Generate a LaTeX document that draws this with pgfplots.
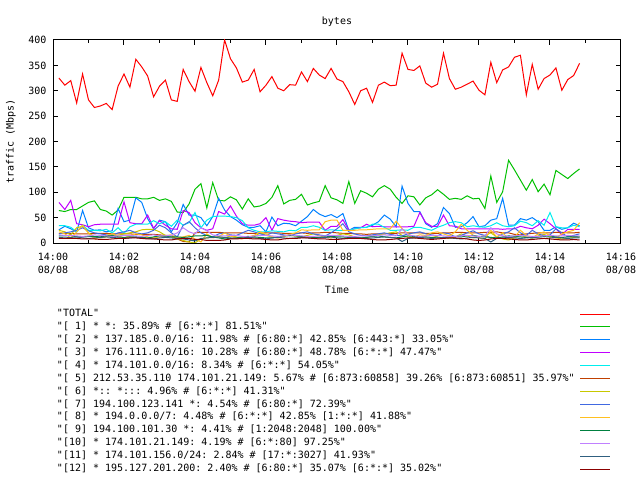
\documentclass[border=0pt]{standalone}
\usepackage{fontspec}
\setmainfont{DejaVu Sans Mono}
\setmonofont{DejaVu Sans Mono}
\usepackage{pgfplots}
\usepackage{pgfplotstable}
\pgfplotsset{compat=1.18}
\newcommand\myfont{\ttfamily\fontsize{10bp}{12.9bp}\selectfont}
\newcommand\legbox[1]{\makebox[523bp][l]{#1}}
\definecolor{c1}{HTML}{00C000}
\definecolor{c2}{HTML}{0080FF}
\definecolor{c3}{HTML}{C000FF}
\definecolor{c4}{HTML}{00EEEE}
\definecolor{c5}{HTML}{C04000}
\definecolor{c6}{HTML}{C8C800}
\definecolor{c7}{HTML}{4169E1}
\definecolor{c8}{HTML}{FFC020}
\definecolor{c9}{HTML}{008040}
\definecolor{c10}{HTML}{C080FF}
\definecolor{c11}{HTML}{306080}
\definecolor{c12}{HTML}{8B0000}
\pgfplotstableread{
t T s1 s2 s3 s4 s5 s6 s7 s8 s9 s10 s11 s12
10 325 64 26 80 34 19 25 18 22 14 16 11 9
20 311 62 33 66 34 19 22 20 18 14 15 10 9
30 320 66 28 84 31 19 16 22 10 15 15 11 9
40 276 66 22 38 22 18 30 25 22 12 14 12 9
50 333 73 64 36 35 18 33 30 35 12 13 10 8
60 282 80 30 32 25 18 20 24 20 13 14 9 8
70 267 83 25 36 25 19 12 20 8 13 16 10 8
80 270 66 26 37 24 19 10 18 12 12 15 11 7
90 275 63 22 37 27 19 12 16 15 14 14 12 7
100 263 55 24 37 20 18 13 15 18 15 13 11 8
110 309 65 68 37 30 18 15 20 14 12 14 10 9
120 333 90 42 81 19 18 18 22 10 11 15 9 9
130 307 90 45 40 32 18 20 25 14 12 15 10 10
140 362 90 89 38 37 17 22 20 18 12 14 11 10
150 347 87 80 38 37 17 26 18 16 11 13 10 9
160 329 87 48 55 37 17 27 20 12 10 15 9 8
170 288 90 28 29 44 17 27 25 10 12 16 8 8
180 309 84 45 44 38 16 22 35 12 14 14 10 7
190 321 87 42 35 42 15 15 30 14 13 14 11 6
200 282 82 22 28 33 15 12 20 16 12 15 10 6
210 279 61 40 27 45 8 8 12 10 12 20 9 8
220 342 60 76 64 35 3 5 35 12 11 30 8 9
230 318 77 55 60 40 2 2 42 15 12 22 6 9
240 299 106 55 40 60 20 0 30 8 14 18 4 7
250 346 117 50 30 30 21 8 20 2 14 30 9 7
260 316 69 34 25 45 21 10 15 18 15 24 10 5
270 290 119 52 28 52 21 12 12 10 12 16 11 5
280 321 84 88 62 53 21 12 18 12 10 14 12 5
290 400 83 65 57 53 20 10 20 20 8 14 11 6
300 363 91 52 73 52 20 14 16 14 9 15 10 8
310 345 85 45 53 50 20 12 15 10 10 15 9 8
320 317 67 36 38 44 20 10 20 8 12 13 10 9
330 321 87 31 35 30 19 9 25 12 13 12 11 9
340 342 71 31 35 25 19 12 22 15 12 14 10 8
350 298 73 34 38 22 19 20 18 22 11 15 9 8
360 311 78 22 50 22 20 15 15 18 10 15 8 7
370 328 90 51 25 24 20 12 20 12 10 14 10 6
380 305 113 34 48 23 20 10 18 10 12 13 11 6
390 300 77 39 45 22 19 13 16 14 14 14 10 8
400 312 84 38 43 25 19 15 14 17 15 16 9 9
410 311 86 34 42 24 19 14 18 20 14 15 10 9
420 337 96 43 40 31 20 12 20 26 13 14 11 10
430 318 75 52 41 31 19 15 22 25 12 13 10 10
440 344 79 66 41 34 20 18 18 26 11 13 9 9
450 331 82 57 41 31 20 14 16 26 11 14 10 8
460 324 113 52 25 25 21 12 14 42 12 14 11 8
470 344 89 56 33 26 21 10 20 45 13 15 12 7
480 323 85 50 33 25 20 15 28 45 12 15 10 7
490 318 78 58 46 25 19 18 38 25 12 14 9 8
500 298 121 25 25 25 19 16 22 25 11 13 10 9
510 273 78 31 28 28 18 12 18 25 10 13 11 9
520 300 103 31 30 30 18 10 15 26 10 14 10 9
530 305 98 31 37 31 17 11 14 26 11 14 9 8
540 277 91 35 32 37 18 13 16 27 13 14 10 7
550 311 106 42 33 37 18 16 18 28 14 15 11 6
560 317 113 55 32 31 18 18 20 28 12 16 12 6
570 310 106 47 32 25 19 20 17 28 11 15 11 7
580 311 90 32 32 25 19 22 15 43 10 14 10 8
590 374 78 112 32 26 20 15 14 28 12 28 3 9
600 342 93 78 32 25 20 12 18 18 14 16 9 10
610 340 91 62 33 31 20 10 20 12 13 14 10 10
620 349 75 62 60 31 20 12 22 16 12 13 11 9
630 315 89 38 40 28 19 14 18 15 12 14 10 8
640 307 95 31 33 25 19 15 16 20 11 15 9 7
650 313 105 38 33 31 19 12 14 22 10 15 10 8
660 374 96 70 55 35 20 10 20 18 11 14 11 9
670 324 86 58 34 40 20 9 18 14 12 13 10 10
680 303 88 31 33 42 21 12 12 22 13 13 9 10
690 307 86 32 28 40 21 18 15 37 12 14 8 9
700 313 93 40 28 32 20 14 20 25 14 15 10 8
710 319 87 52 28 34 20 10 24 15 15 14 11 6
720 301 88 32 28 32 20 12 18 10 13 13 10 5
730 292 68 34 28 31 21 15 15 8 12 14 9 6
740 356 132 45 28 34 21 20 10 25 11 30 2 8
750 316 80 48 28 40 22 12 12 12 10 18 9 9
760 341 101 88 27 34 20 8 18 20 12 14 10 9
770 347 163 35 28 32 20 6 22 8 14 13 11 8
780 366 144 35 28 34 17 10 30 12 13 14 10 7
790 370 124 48 33 43 16 15 20 25 12 15 9 6
800 292 104 45 30 40 18 12 15 15 11 14 10 6
810 352 125 50 28 34 19 10 25 10 10 13 11 7
820 303 101 42 35 44 20 14 18 18 12 13 10 8
830 324 116 25 47 35 20 17 14 22 13 14 9 9
840 331 95 25 38 60 20 12 16 14 14 15 10 8
850 345 143 32 28 32 21 10 28 10 12 14 11 7
860 301 135 27 16 30 21 8 20 18 11 14 10 6
870 322 127 30 27 30 20 9 12 22 12 15 9 6
880 330 137 39 27 35 20 11 15 25 13 14 10 7
890 354 146 34 27 32 21 12 18 40 12 14 10 6
}\data
\begin{document}
\begin{tikzpicture}[font=\myfont]
\useasboundingbox (0,0) rectangle (640bp,480bp);
\begin{axis}[
  at={(53bp,237bp)}, anchor=south west,
  width=568bp, height=203bp, scale only axis,
  xmin=0, xmax=960, ymin=0, ymax=400,
  xtick={0,120,...,960},
  xticklabels={{14:00\\08/08},{14:02\\08/08},{14:04\\08/08},{14:06\\08/08},{14:08\\08/08},{14:10\\08/08},{14:12\\08/08},{14:14\\08/08},{14:16\\08/08}},
  minor xtick={60,180,...,900},
  ytick={0,50,...,400},
  xtick pos=both, ytick pos=both,
  tick align=inside,
  major tick length=5bp, minor tick length=3bp,
  axis line style={black, line width=1bp},
  every tick/.style={black, line width=1bp},
  /pgf/number format/assume math mode=true,
  tick label style={font=\myfont},
  xticklabel style={align=center, yshift=-7bp},
  yticklabel style={xshift=-3bp},
  title={bytes},
  title style={font=\myfont, at={(axis description cs:0.5,1)}, anchor=center, yshift=12bp},
  xlabel={Time},
  xlabel style={font=\myfont, at={(axis description cs:0.5,-0.2315)}, anchor=center},
  ylabel={traffic (Mbps)},
  ylabel style={font=\myfont, at={(axis description cs:-0.074,0.5)}, anchor=center},
  no markers,
  every axis plot/.append style={line width=1bp},
  legend cell align=left,
  legend plot pos=right,
  legend image code/.code={\draw[#1] (0bp,0bp) -- (30bp,0bp);},
  legend style={font=\myfont, draw=none, fill=none, inner sep=0pt, outer sep=0pt,
    at={(axis description cs:0.00704,-0.3182)}, anchor=north west,
    /tikz/column sep=0pt, /tikz/row sep=0pt,
    nodes={inner sep=0pt, text height=9bp, text depth=3.92bp}},
]
\addplot[red] table[x=t,y=T]{\data};
\addlegendentry{\legbox{"TOTAL"}}
\addplot[c1] table[x=t,y=s1]{\data};
\addlegendentry{\legbox{"[ 1] * *: 35.89\% \# [6:*:*] 81.51\%"}}
\addplot[c2] table[x=t,y=s2]{\data};
\addlegendentry{\legbox{"[ 2] * 137.185.0.0/16: 11.98\% \# [6:80:*] 42.85\% [6:443:*] 33.05\%"}}
\addplot[c3] table[x=t,y=s3]{\data};
\addlegendentry{\legbox{"[ 3] * 176.111.0.0/16: 10.28\% \# [6:80:*] 48.78\% [6:*:*] 47.47\%"}}
\addplot[c4] table[x=t,y=s4]{\data};
\addlegendentry{\legbox{"[ 4] * 174.101.0.0/16: 8.34\% \# [6:*:*] 54.05\%"}}
\addplot[c5] table[x=t,y=s5]{\data};
\addlegendentry{\legbox{"[ 5] 212.53.35.110 174.101.21.149: 5.67\% \# [6:873:60858] 39.26\% [6:873:60851] 35.97\%"}}
\addplot[c6] table[x=t,y=s6]{\data};
\addlegendentry{\legbox{"[ 6] *:: *::: 4.96\% \# [6:*:*] 41.31\%"}}
\addplot[c7] table[x=t,y=s7]{\data};
\addlegendentry{\legbox{"[ 7] 194.100.123.141 *: 4.54\% \# [6:80:*] 72.39\%"}}
\addplot[c8] table[x=t,y=s8]{\data};
\addlegendentry{\legbox{"[ 8] * 194.0.0.0/7: 4.48\% \# [6:*:*] 42.85\% [1:*:*] 41.88\%"}}
\addplot[c9] table[x=t,y=s9]{\data};
\addlegendentry{\legbox{"[ 9] 194.100.101.30 *: 4.41\% \# [1:2048:2048] 100.00\%"}}
\addplot[c10] table[x=t,y=s10]{\data};
\addlegendentry{\legbox{"[10] * 174.101.21.149: 4.19\% \# [6:*:80] 97.25\%"}}
\addplot[c11] table[x=t,y=s11]{\data};
\addlegendentry{\legbox{"[11] * 174.101.156.0/24: 2.84\% \# [17:*:3027] 41.93\%"}}
\addplot[c12] table[x=t,y=s12]{\data};
\addlegendentry{\legbox{"[12] * 195.127.201.200: 2.40\% \# [6:80:*] 35.07\% [6:*:*] 35.02\%"}}
\end{axis}
\end{tikzpicture}
\end{document}
